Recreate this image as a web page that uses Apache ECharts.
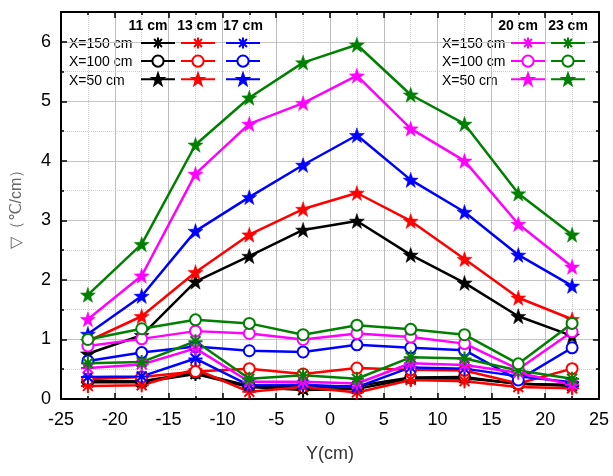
<!DOCTYPE html>
<html>
<head>
<meta charset="utf-8">
<script src="https://cdn.jsdelivr.net/npm/echarts@6/dist/echarts.min.js"></script>
<style>
  html, body { margin: 0; padding: 0; background: #fff; }
  #chart { width: 613px; height: 476px; }
</style>
</head>
<body>
<div id="chart"></div>
<script>
// positions across the channel, Y (cm)
var yPos = [-22.5, -17.5, -12.5, -7.5, -2.5, 2.5, 7.5, 12.5, 17.5, 22.5];
var depths = ["11 cm", "13 cm", "17 cm", "20 cm", "23 cm"];
var rows = ["X=150 cm", "X=100 cm", "X=50 cm"];

// X=150 cm (asterisk)
var a11 = [0.28, 0.28, 0.42, 0.20, 0.15, 0.17, 0.34, 0.35, 0.26, 0.22];
var a13 = [0.22, 0.23, 0.50, 0.12, 0.20, 0.11, 0.32, 0.30, 0.20, 0.18];
var a17 = [0.37, 0.38, 0.68, 0.23, 0.24, 0.20, 0.53, 0.51, 0.38, 0.28];
var a20 = [0.52, 0.58, 0.85, 0.29, 0.29, 0.26, 0.60, 0.57, 0.44, 0.24];
var a23 = [0.60, 0.62, 0.97, 0.34, 0.40, 0.34, 0.70, 0.68, 0.48, 0.34];
// X=100 cm (circle)
var c11 = [0.30, 0.30, 0.44, 0.22, 0.19, 0.22, 0.36, 0.37, 0.25, 0.24];
var c13 = [0.33, 0.37, 0.46, 0.51, 0.42, 0.52, 0.49, 0.48, 0.26, 0.51];
var c17 = [0.64, 0.78, 0.88, 0.81, 0.79, 0.91, 0.86, 0.82, 0.32, 0.86];
var c20 = [0.89, 1.01, 1.14, 1.10, 1.00, 1.10, 1.04, 0.93, 0.50, 1.13];
var c23 = [1.00, 1.18, 1.33, 1.27, 1.08, 1.24, 1.17, 1.08, 0.59, 1.27];
// X=50 cm (star)
var s11 = [0.76, 1.07, 1.97, 2.40, 2.84, 2.99, 2.42, 1.95, 1.39, 1.06];
var s13 = [0.97, 1.39, 2.13, 2.76, 3.19, 3.46, 2.99, 2.35, 1.70, 1.34];
var s17 = [1.09, 1.73, 2.82, 3.39, 3.93, 4.43, 3.68, 3.14, 2.42, 1.90];
var s20 = [1.34, 2.07, 3.78, 4.62, 4.97, 5.43, 4.54, 4.00, 2.94, 2.22];
var s23 = [1.75, 2.60, 4.27, 5.06, 5.65, 5.95, 5.11, 4.62, 3.45, 2.76];

var colors = ["#000000", "#ff0000", "#0000ff", "#ff00ff", "#008000"];
var dataSets = [
  [a11, c11, s11],
  [a13, c13, s13],
  [a17, c17, s17],
  [a20, c20, s20],
  [a23, c23, s23]
];

var asterisk = "path://M0,-10L0,10M-10,0L10,0M-7.07,-7.07L7.07,7.07M-7.07,7.07L7.07,-7.07";
var star = "path://M0,-10L2.35,-3.24L9.51,-3.09L3.8,1.24L5.88,8.09L0,4L-5.88,8.09L-3.8,1.24L-9.51,-3.09L-2.35,-3.24Z";

var myChart = echarts.init(document.getElementById("chart"));

var series = [];
var legends = [];
var legendLeft = [140, 180, 225, 510, 550];
for (var d = 0; d < depths.length; d++) {
  var names = [];
  for (var r = 0; r < 3; r++) {
    var name = depths[d] + " " + rows[r];
    names.push(name);
    var pts = [];
    for (var i = 0; i < yPos.length; i++) pts.push([yPos[i], dataSets[d][r][i]]);
    var s = {
      name: name,
      type: "line",
      data: pts,
      color: colors[d],
      lineStyle: { width: 2.5, color: colors[d] },
      emphasis: { disabled: true }
    };
    if (r == 0) {
      s.symbol = asterisk;
      s.symbolSize = 14;
      s.itemStyle = { color: colors[d], borderColor: colors[d], borderWidth: 2 };
    } else if (r == 1) {
      s.symbol = "emptyCircle";
      s.symbolSize = 11;
      s.itemStyle = { color: colors[d], borderWidth: 2 };
    } else {
      s.symbol = star;
      s.symbolSize = 15;
      s.itemStyle = { color: colors[d], borderColor: colors[d], borderWidth: 0.5 };
    }
    series.push(s);
  }
  legends.push({
    data: names,
    orient: "vertical",
    left: legendLeft[d],
    top: 36,
    padding: 0,
    itemWidth: 34,
    itemHeight: 14,
    itemGap: 4.5,
    selectedMode: false,
    formatter: function() { return ""; },
    textStyle: { fontSize: 10 }
  });
}

var headX = [148, 197, 243, 518, 568];
var graphics = [];
for (var h = 0; h < depths.length; h++) {
  graphics.push({
    type: "text", x: headX[h], y: 26,
    style: { text: depths[h], font: "bold 14px 'Liberation Sans', Arial", fill: "#000", align: "center", verticalAlign: "middle" }
  });
}
var rowY = [44, 62, 81];
for (var k = 0; k < 3; k++) {
  graphics.push({
    type: "text", x: 69, y: rowY[k],
    style: { text: rows[k], font: "14px 'Liberation Sans', Arial", fill: "#000", verticalAlign: "middle" }
  });
  graphics.push({
    type: "text", x: 442, y: rowY[k],
    style: { text: rows[k], font: "14px 'Liberation Sans', Arial", fill: "#000", verticalAlign: "middle" }
  });
}

var font = "'Liberation Sans', Arial, sans-serif";

var option = {
  animation: false,
  textStyle: { fontFamily: font },
  grid: { left: 61, right: 14, top: 12, bottom: 77 },
  legend: legends,
  graphic: graphics,
  xAxis: [
    {
      type: "value", position: "bottom", min: -25, max: 25, interval: 5,
      axisLine: { onZero: false, lineStyle: { color: "#000", width: 2 } },
      axisTick: { inside: true, length: 6, lineStyle: { color: "#000", width: 1.5 } },
      minorTick: { show: true, splitNumber: 2, length: 3, lineStyle: { color: "#000", width: 1.5 } },
      axisLabel: { fontSize: 18, color: "#000", margin: 12 },
      splitLine: { show: true, lineStyle: { color: "#bdbdbd", width: 1 } },
      minorSplitLine: { show: true, lineStyle: { color: "#cccccc", width: 1, type: "dotted" } },
      name: "Y(cm)", nameLocation: "middle", nameGap: 46,
      nameTextStyle: { fontSize: 18, color: "#333" }
    },
    {
      type: "value", position: "top", min: -25, max: 25, interval: 5,
      axisLine: { onZero: false, lineStyle: { color: "#000", width: 2 } },
      axisTick: { inside: true, length: 6, lineStyle: { color: "#000", width: 1.5 } },
      minorTick: { show: true, splitNumber: 2, length: 3, lineStyle: { color: "#000", width: 1.5 } },
      axisLabel: { show: false },
      splitLine: { show: false }
    }
  ],
  yAxis: [
    {
      type: "value", position: "left", min: 0, max: 6.5, interval: 1,
      axisLine: { show: true, onZero: false, lineStyle: { color: "#000", width: 2 } },
      axisTick: { show: true, inside: true, length: 6, lineStyle: { color: "#000", width: 1.5 } },
      axisLabel: {
        fontSize: 18, color: "#000", margin: 10,
        formatter: function(v) { return Number.isInteger(v) ? v : ""; }
      },
      splitLine: { show: true, lineStyle: { color: "#bdbdbd", width: 1 } },
      name: "\u25BD\uFF08\u2103/cm\uFF09", nameLocation: "middle", nameGap: 36,
      nameTextStyle: { fontSize: 16, color: "#666" }
    },
    {
      type: "value", position: "left", min: 0, max: 6.5, interval: 0.5,
      axisLine: { show: false, onZero: false },
      axisTick: { show: true, inside: true, length: 3, lineStyle: { color: "#000", width: 1.5 } },
      axisLabel: { show: false },
      splitLine: { show: true, lineStyle: { color: "#cccccc", width: 1, type: "dotted" } }
    },
    {
      type: "value", position: "right", min: 0, max: 6.5, interval: 1,
      axisLine: { show: true, onZero: false, lineStyle: { color: "#000", width: 2 } },
      axisTick: { show: true, inside: true, length: 6, lineStyle: { color: "#000", width: 1.5 } },
      axisLabel: { show: false },
      splitLine: { show: false }
    },
    {
      type: "value", position: "right", min: 0, max: 6.5, interval: 0.5,
      axisLine: { show: false, onZero: false },
      axisTick: { show: true, inside: true, length: 3, lineStyle: { color: "#000", width: 1.5 } },
      axisLabel: { show: false },
      splitLine: { show: false }
    }
  ],
  series: series
};

myChart.setOption(option);
</script>
</body>
</html>
